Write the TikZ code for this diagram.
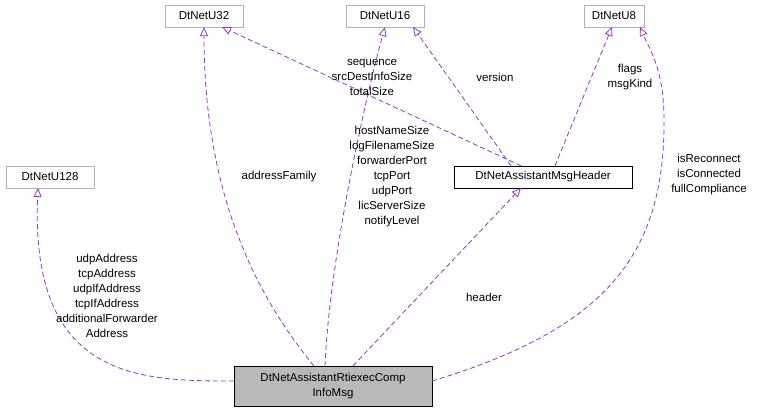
\documentclass[tikz,border=0pt]{standalone}
\usepackage{fontspec}
\setmainfont{Liberation Sans}
\usetikzlibrary{arrows.meta}
\definecolor{edgec}{RGB}{154,50,205}
\begin{document}
\begin{tikzpicture}[x=1pt,y=-1pt,font=\fontsize{11.5}{15}\selectfont,
 cls/.style={draw=gray!60,minimum height=22pt,inner xsep=4pt},
 edge/.style={draw=edgec,dashed,line width=0.8pt,dash pattern=on 5pt off 3pt,-{Triangle[open,length=9pt,width=8pt]}},
 lab/.style={align=center,inner sep=0pt}]
\useasboundingbox (0,0) rectangle (759,413);
\node[cls,minimum width=78pt] (u32) at (204,16) {DtNetU32};
\node[cls,minimum width=78pt] (u16) at (385,16) {DtNetU16};
\node[cls,minimum width=60pt] (u8) at (614,16) {DtNetU8};
\node[cls,minimum width=88pt] (u128) at (50,177) {DtNetU128};
\node[draw,minimum width=178pt,minimum height=22pt] (hdr) at (543,177) {DtNetAssistantMsgHeader};
\node[draw,fill=gray!55,minimum width=198pt,minimum height=40pt,align=center,inner ysep=2pt] (main) at (333,386) {DtNetAssistantRtiexecComp\\InfoMsg};
\coordinate (t128) at (38,188);
\coordinate (t8a) at (640,27);
\coordinate (t8b) at (612,27);
\coordinate (t32b) at (222,27);
\coordinate (t16b) at (413,27);
\coordinate (thd) at (521,188);
\draw[edge] (main.north west) ++(80,0) coordinate (a1) .. controls (260,300) and (204,200) .. (u32.south);
\draw[edge] (main.north) ++(-8,0) coordinate (a2) .. controls (330,250) and (370,80) .. (u16.south);
\draw[edge] (main.west) ++(0,-5) coordinate (a3) .. controls (140,381) and (30,380) .. (t128);
\draw[edge] (main.north) ++(20,0) coordinate (a4) -- (thd);
\draw[edge] (main.east) ++(0,-5) coordinate (a5) .. controls (600,330) and (665,260) .. (664,120) .. controls (664,70) and (650,50) .. (t8a);
\draw[edge] (hdr.north) ++(-22,0) coordinate (b1) -- (t32b);
\draw[edge] (hdr.north) ++(-32,0) coordinate (b2) -- (t16b);
\draw[edge] (hdr.north) ++(12,0) coordinate (b3) -- (t8b);
\node[lab] at (279,177) {addressFamily};
\node[lab] at (372,77) {sequence\\srcDestInfoSize\\totalSize};
\node[lab] at (392,177) {hostNameSize\\logFilenameSize\\forwarderPort\\tcpPort\\udpPort\\licServerSize\\notifyLevel};
\node[lab] at (107,296) {udpAddress\\tcpAddress\\udpIfAddress\\tcpIfAddress\\additionalForwarder\\Address};
\node[lab] at (484,297) {header};
\node[lab] at (709,175) {isReconnect\\isConnected\\fullCompliance};
\node[lab] at (495,77) {version};
\node[lab] at (630,77) {flags\\msgKind};
\end{tikzpicture}
\end{document}
